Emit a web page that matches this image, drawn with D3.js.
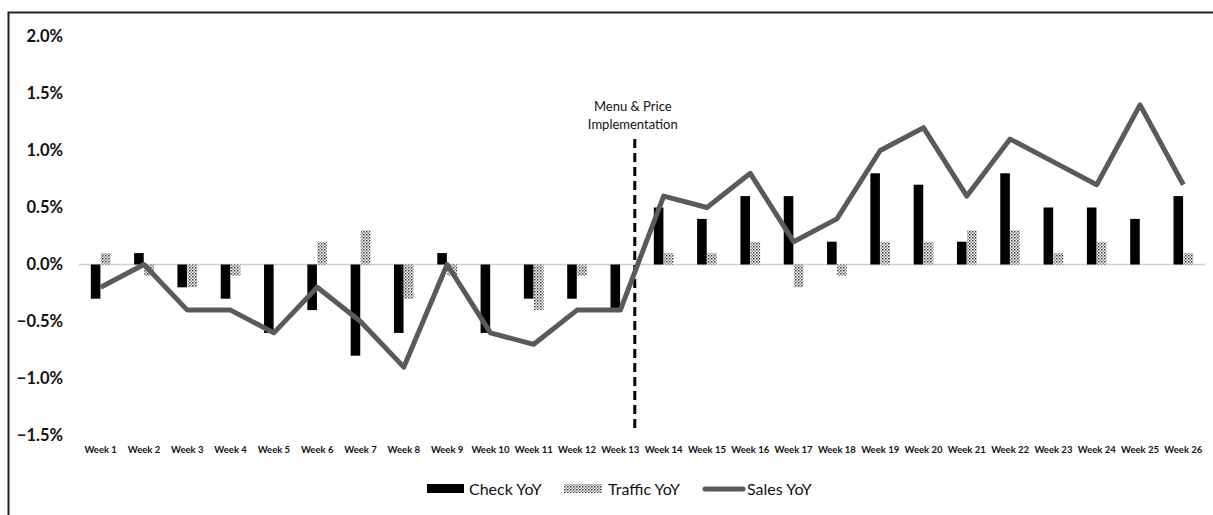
<!DOCTYPE html>
<html>
<head>
<meta charset="utf-8">
<script src="https://cdn.jsdelivr.net/npm/d3@7/dist/d3.min.js"></script>
<style>
  body { margin: 0; background: #fff; }
  svg { display: block; }
</style>
</head>
<body>
<svg id="chart" width="1213" height="515"></svg>
<script>
// data (values in %)
const weeks = d3.range(1, 27).map(i => 'Week ' + i)
const checkYoY = [-0.3, 0.1, -0.2, -0.3, -0.6, -0.4, -0.8, -0.6, 0.1, -0.6, -0.3, -0.3, -0.4,
  0.5, 0.4, 0.6, 0.6, 0.2, 0.8, 0.7, 0.2, 0.8, 0.5, 0.5, 0.4, 0.6]
const trafficYoY = [0.1, -0.1, -0.2, -0.1, 0, 0.2, 0.3, -0.3, -0.1, 0, -0.4, -0.1, 0,
  0.1, 0.1, 0.2, -0.2, -0.1, 0.2, 0.2, 0.3, 0.3, 0.1, 0.2, 0, 0.1]
const salesYoY = [-0.2, 0, -0.4, -0.4, -0.6, -0.2, -0.5, -0.9, 0, -0.6, -0.7, -0.4, -0.4,
  0.6, 0.5, 0.8, 0.2, 0.4, 1.0, 1.2, 0.6, 1.1, 0.9, 0.7, 1.4, 0.7]
const yTicks = [-1.5, -1.0, -0.5, 0, 0.5, 1.0, 1.5, 2.0]
const seriesNames = ['Check YoY', 'Traffic YoY', 'Sales YoY']
const annotation = ['Menu & Price', 'Implementation']

const svg = d3.select('#chart')
const font = 'Lato, "Open Sans", sans-serif'

// outer frame (only top and left edges are visible)
svg.append('rect')
  .attr('x', 8.5).attr('y', 12.5)
  .attr('width', 1400).attr('height', 700)
  .attr('fill', 'none').attr('stroke', '#222').attr('stroke-width', 2)

const x = d3.scaleBand().domain(weeks).range([79, 1205])
const y = d3.scaleLinear().domain([-1.5, 2.0]).range([435.5, 36.5])
const x1 = d3.scaleBand().domain(['check', 'traffic'])
  .range([0, x.bandwidth()]).paddingInner(0.05).paddingOuter(1.17)

// stipple pattern for traffic bars
const defs = svg.append('defs')
const pat = defs.append('pattern')
  .attr('id', 'dots').attr('patternUnits', 'userSpaceOnUse')
  .attr('width', 3).attr('height', 3)
pat.append('rect').attr('width', 3).attr('height', 3).attr('fill', '#fff')
pat.append('rect').attr('width', 1.5).attr('height', 1.5).attr('fill', '#333')
pat.append('rect').attr('x', 1.5).attr('y', 1.5).attr('width', 1.5).attr('height', 1.5).attr('fill', '#888')

// y labels
svg.append('g').selectAll('text')
  .data(yTicks)
  .enter()
  .append('text')
  .attr('x', 63)
  .attr('y', d => y(d))
  .attr('dy', '0.35em')
  .attr('text-anchor', 'end')
  .attr('font-family', font)
  .attr('font-weight', 'bold')
  .attr('font-size', '16.5px')
  .attr('fill', '#111')
  .text(d => d3.format('.1f')(d) + '%')

// zero line
svg.append('line')
  .attr('x1', 79).attr('x2', 1205)
  .attr('y1', y(0)).attr('y2', y(0))
  .attr('stroke', '#d0d0d0').attr('stroke-width', 1.5)

// x labels
svg.append('g').selectAll('text')
  .data(weeks)
  .enter()
  .append('text')
  .attr('x', d => x(d) + x.bandwidth() / 2)
  .attr('y', 450)
  .attr('dy', '0.35em')
  .attr('text-anchor', 'middle')
  .attr('font-family', font)
  .attr('font-weight', 'bold')
  .attr('font-size', '9.5px')
  .attr('fill', '#111')
  .text(d => d)

// check bars
svg.append('g').selectAll('rect')
  .data(checkYoY)
  .enter()
  .append('rect')
  .attr('x', (d, i) => x(weeks[i]) + x1('check'))
  .attr('width', x1.bandwidth())
  .attr('y', d => y(Math.max(0, d)))
  .attr('height', d => Math.abs(y(d) - y(0)))
  .attr('fill', '#000')

// traffic bars
svg.append('g').selectAll('rect')
  .data(trafficYoY)
  .enter()
  .append('rect')
  .attr('x', (d, i) => x(weeks[i]) + x1('traffic'))
  .attr('width', x1.bandwidth())
  .attr('y', d => y(Math.max(0, d)))
  .attr('height', d => Math.abs(y(d) - y(0)))
  .attr('fill', 'url(#dots)')

// implementation marker, a third of the way from week 13 to week 14
const markX = x('Week 13') + x.bandwidth() / 2 + x.step() / 3
svg.append('line')
  .attr('x1', markX).attr('x2', markX)
  .attr('y1', y(1.1)).attr('y2', y(-1.47))
  .attr('stroke', '#000').attr('stroke-width', 3)
  .attr('stroke-dasharray', '9,5')

svg.append('g').selectAll('text')
  .data(annotation)
  .enter()
  .append('text')
  .attr('x', markX - 2)
  .attr('y', (d, i) => 111 + i * 18)
  .attr('text-anchor', 'middle')
  .attr('font-family', font)
  .attr('font-size', '13px')
  .attr('fill', '#111')
  .text(d => d)

// sales line
const line = d3.line()
  .x((d, i) => x(weeks[i]) + x.bandwidth() / 2)
  .y(d => y(d))
svg.append('path')
  .datum(salesYoY)
  .attr('d', line)
  .attr('fill', 'none')
  .attr('stroke', '#5a5a5a')
  .attr('stroke-width', 5)
  .attr('stroke-linejoin', 'round')

// legend
const legend = svg.append('g')
const lx = [427, 564, 703]
legend.append('rect')
  .attr('x', lx[0]).attr('y', 484).attr('width', 37).attr('height', 9)
  .attr('fill', '#000')
legend.append('rect')
  .attr('x', lx[1]).attr('y', 484).attr('width', 38).attr('height', 9)
  .attr('fill', 'url(#dots)')
legend.append('line')
  .attr('x1', lx[2] + 2).attr('x2', lx[2] + 40)
  .attr('y1', 489).attr('y2', 489)
  .attr('stroke', '#5a5a5a').attr('stroke-width', 5)
  .attr('stroke-linecap', 'round')
legend.selectAll('text')
  .data(seriesNames)
  .enter()
  .append('text')
  .attr('x', (d, i) => lx[i] + [42, 44, 44][i])
  .attr('y', 489)
  .attr('dy', '0.35em')
  .attr('font-family', font)
  .attr('font-size', '16px')
  .attr('fill', '#111')
  .text(d => d)
</script>
</body>
</html>
